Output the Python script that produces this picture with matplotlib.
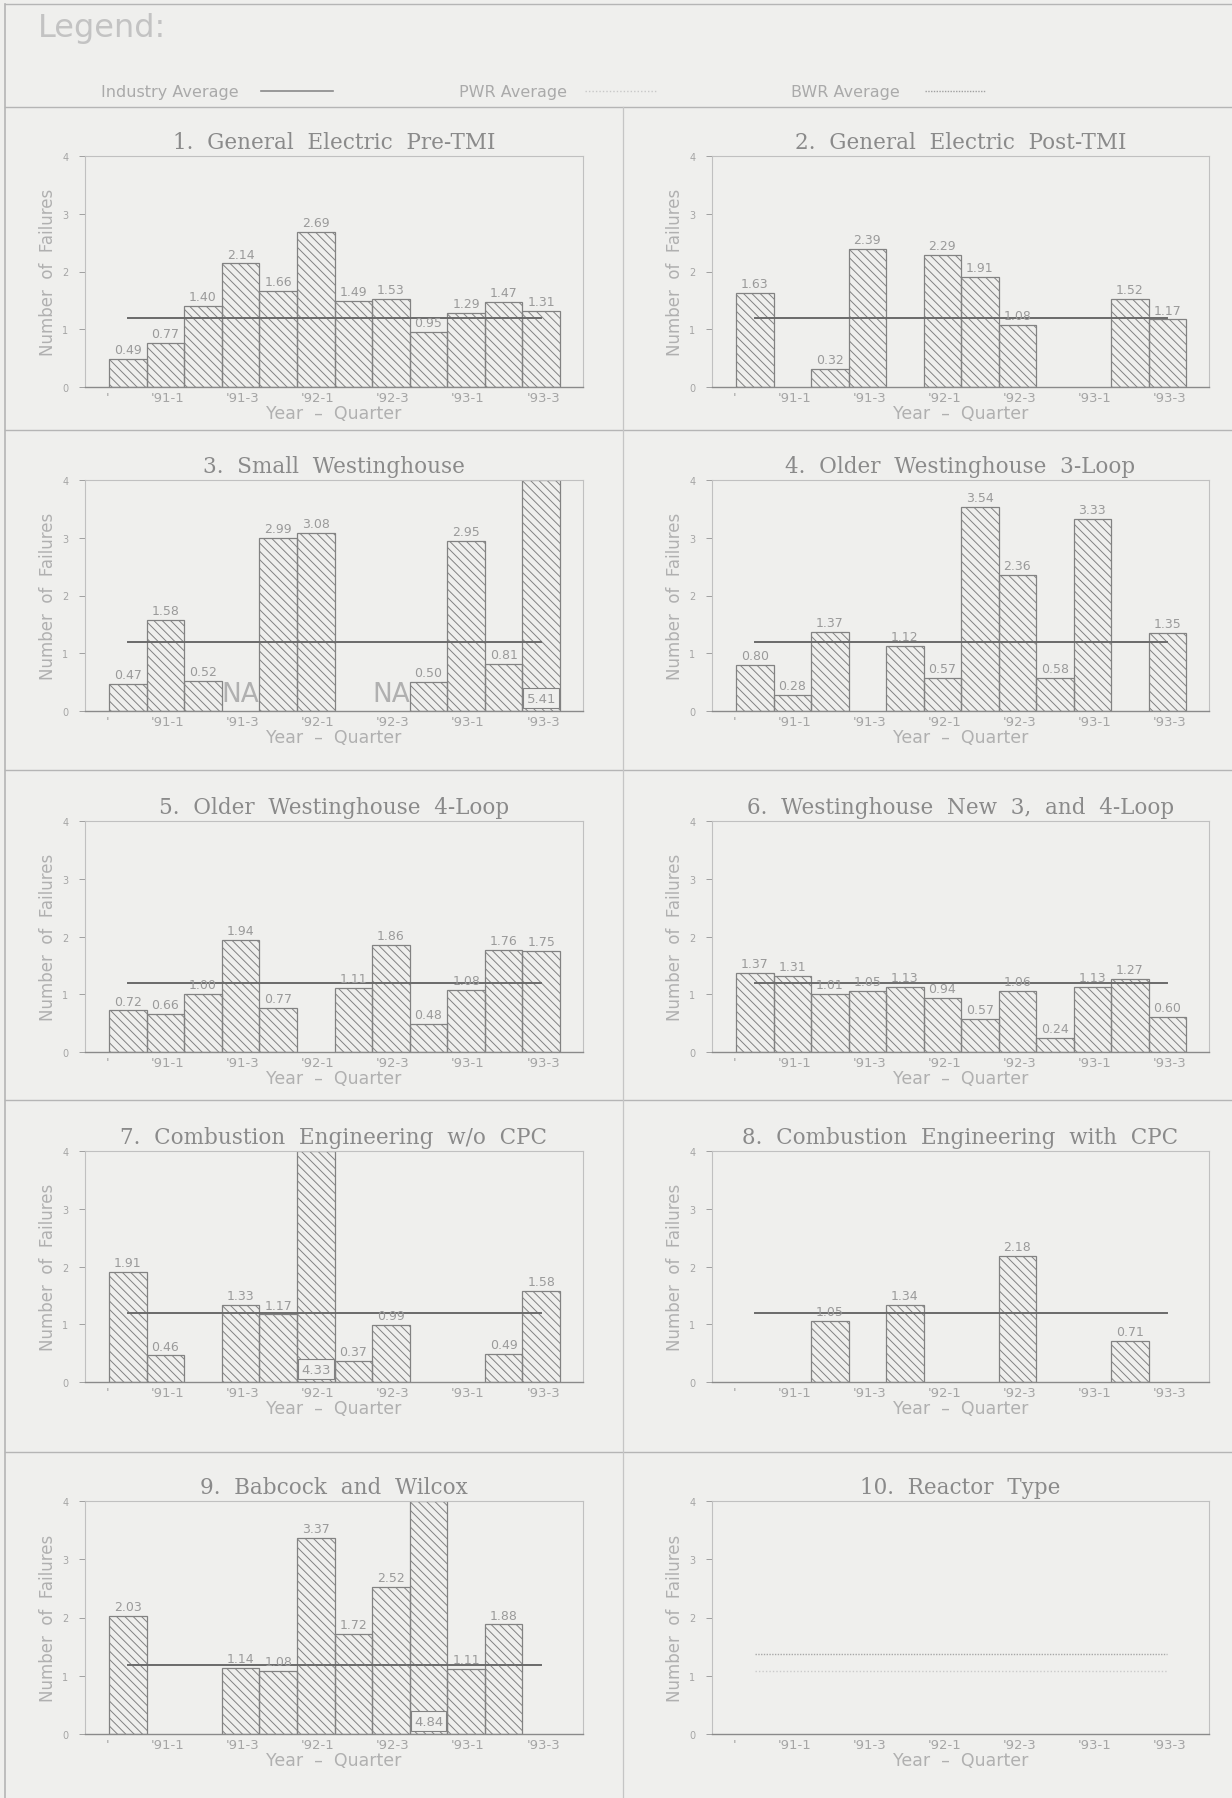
import numpy as np
import matplotlib.pyplot as plt
from matplotlib.lines import Line2D

# quarter slots, 12 per panel (None = no bar)
xlabels = ["'", "'91-1", "'91-3", "'92-1", "'92-3", "'93-1", "'93-3"]

titles = [
    "1.  General  Electric  Pre-TMI",
    "2.  General  Electric  Post-TMI",
    "3.  Small  Westinghouse",
    "4.  Older  Westinghouse  3-Loop",
    "5.  Older  Westinghouse  4-Loop",
    "6.  Westinghouse  New  3,  and  4-Loop",
    "7.  Combustion  Engineering  w/o  CPC",
    "8.  Combustion  Engineering  with  CPC",
    "9.  Babcock  and  Wilcox",
    "10.  Reactor  Type",
]

ge_pre = [0.49, 0.77, 1.40, 2.14, 1.66, 2.69, 1.49, 1.53, 0.95, 1.29, 1.47, 1.31]
ge_post = [1.63, None, 0.32, 2.39, None, 2.29, 1.91, 1.08, None, None, 1.52, 1.17]
small_w = [0.47, 1.58, 0.52, None, 2.99, 3.08, None, None, 0.50, 2.95, 0.81, 5.41]
old_w3 = [0.80, 0.28, 1.37, None, 1.12, 0.57, 3.54, 2.36, 0.58, 3.33, None, 1.35]
old_w4 = [0.72, 0.66, 1.00, 1.94, 0.77, None, 1.11, 1.86, 0.48, 1.08, 1.76, 1.75]
new_w = [1.37, 1.31, 1.01, 1.05, 1.13, 0.94, 0.57, 1.06, 0.24, 1.13, 1.27, 0.60]
ce_no = [1.91, 0.46, None, 1.33, 1.17, 4.33, 0.37, 0.99, None, None, 0.49, 1.58]
ce_cpc = [None, None, 1.05, None, 1.34, None, None, 2.18, None, None, 0.71, None]
bw = [2.03, None, None, 1.14, 1.08, 3.37, 1.72, 2.52, 4.84, 1.11, 1.88, None]

series = [ge_pre, ge_post, small_w, old_w3, old_w4, new_w, ce_no, ce_cpc, bw, None]
na_slots = {2: [3, 7]}

industry_avg = 1.19
bwr_avg = 1.38
pwr_avg = 1.08

bg = '#efefed'
txt = '#9a9a9a'
edge = '#828282'
avgc = '#6a6a6a'

plt.rcParams['hatch.linewidth'] = 0.7
plt.rcParams['hatch.color'] = edge

W, H = 1232, 1799
fig = plt.figure(figsize=(W / 100, H / 100), dpi=100, facecolor=bg)

def fx(px):
    return px / W

def fy(py):
    return 1 - py / H

# frame and panel separators
for y in [5, 108, 431, 771, 1101, 1453]:
    fig.add_artist(Line2D([fx(5), 1], [fy(y), fy(y)], color='#b5b5b5', lw=1.0))
fig.add_artist(Line2D([fx(5), fx(5)], [0, fy(5)], color='#b5b5b5', lw=1.2))
fig.add_artist(Line2D([fx(623), fx(623)], [0, fy(108)], color='#c5c5c5', lw=0.9))

# legend block
fig.text(fx(38), fy(29), "Legend:", fontsize=23, color='#c3c3c3', va='center')
fig.text(fx(101), fy(92), "Industry Average", fontsize=11.5, color='#aaaaaa', va='center')
fig.add_artist(Line2D([fx(261), fx(333)], [fy(92), fy(92)], color='#8a8a8a', lw=1.2))
fig.text(fx(459), fy(92), "PWR Average", fontsize=11.5, color='#aaaaaa', va='center')
fig.add_artist(Line2D([fx(585), fx(656)], [fy(92), fy(92)], color='#c8c8c8', lw=1.0, ls=(0, (1, 1.5))))
fig.text(fx(791), fy(92), "BWR Average", fontsize=11.5, color='#aaaaaa', va='center')
fig.add_artist(Line2D([fx(925), fx(986)], [fy(92), fy(92)], color='#a0a0a0', lw=1.0, ls=(0, (1, 1))))

rows = [(157, 388), (481, 712), (822, 1053), (1152, 1383), (1502, 1735)]
cols = [(85, 583), (712, 1209)]

for k in range(10):
    r, c = divmod(k, 2)
    top, bot = rows[r]
    left, right = cols[c]
    ax = fig.add_axes([fx(left), fy(bot), fx(right - left), (bot - top) / H])
    ax.set_facecolor(bg)
    ax.set_xlim(-0.64, 12.61)
    ax.set_ylim(0, 4)

    vals = series[k]
    if vals is not None:
        idx = np.array([i for i, v in enumerate(vals) if v is not None])
        v = np.array([vals[i] for i in idx])
        ax.bar(idx + 0.5, np.minimum(v, 4), width=1.0, facecolor='none',
               edgecolor=edge, hatch='\\\\\\\\', linewidth=0.9, zorder=2)
        for i, val in zip(idx, v):
            if val > 4:
                ax.text(i + 0.5, 0.22, f"{val:.2f}", ha='center', va='center',
                        fontsize=9.5, color=txt, zorder=4,
                        bbox=dict(boxstyle='square,pad=0.25', fc=bg, ec=edge, lw=0.8))
            else:
                ax.text(i + 0.5, val + 0.05, f"{val:.2f}", ha='center', va='bottom',
                        fontsize=9, color=txt, zorder=4)
        ax.plot([0.5, 11.5], [industry_avg, industry_avg], color=avgc, lw=1.4, zorder=3)
    else:
        ax.plot([0.5, 11.5], [bwr_avg, bwr_avg], color='#a8a8a8', lw=1.0,
                ls=(0, (1, 1)), zorder=3)
        ax.plot([0.5, 11.5], [pwr_avg, pwr_avg], color='#cbcbcb', lw=1.0,
                ls=(0, (1, 1.5)), zorder=3)

    for s in na_slots.get(k, []):
        ax.text(s + 0.5, 0.3, "NA", ha='center', va='center', fontsize=19,
                color='#b0b0b0', zorder=4)

    ax.set_title(titles[k], fontsize=15.5, color='#8a8a8a', family='DejaVu Serif',
                 pad=6)
    ax.set_xticks(np.arange(0, 13, 2))
    ax.set_xticklabels(xlabels, ha='right', fontsize=9.5, color='#a5a5a5')
    ax.set_yticks(range(5))
    ax.set_yticklabels([str(t) for t in range(5)], fontsize=7, color='#a5a5a5')
    ax.tick_params(axis='x', length=0, pad=3)
    ax.tick_params(axis='y', length=4, width=0.7, color='#a0a0a0', pad=8)
    ax.set_xlabel("Year  –  Quarter", fontsize=12.5, color='#b0b0b0', labelpad=0)
    ax.set_ylabel("Number  of  Failures", fontsize=12, color='#b0b0b0', labelpad=4)
    for sp in ax.spines.values():
        sp.set_color('#c0c0c0')
        sp.set_linewidth(0.8)
    ax.spines['bottom'].set_color('#8a8a8a')
    ax.spines['bottom'].set_linewidth(1.0)

fig.savefig("out.png", dpi=100, facecolor=bg)
